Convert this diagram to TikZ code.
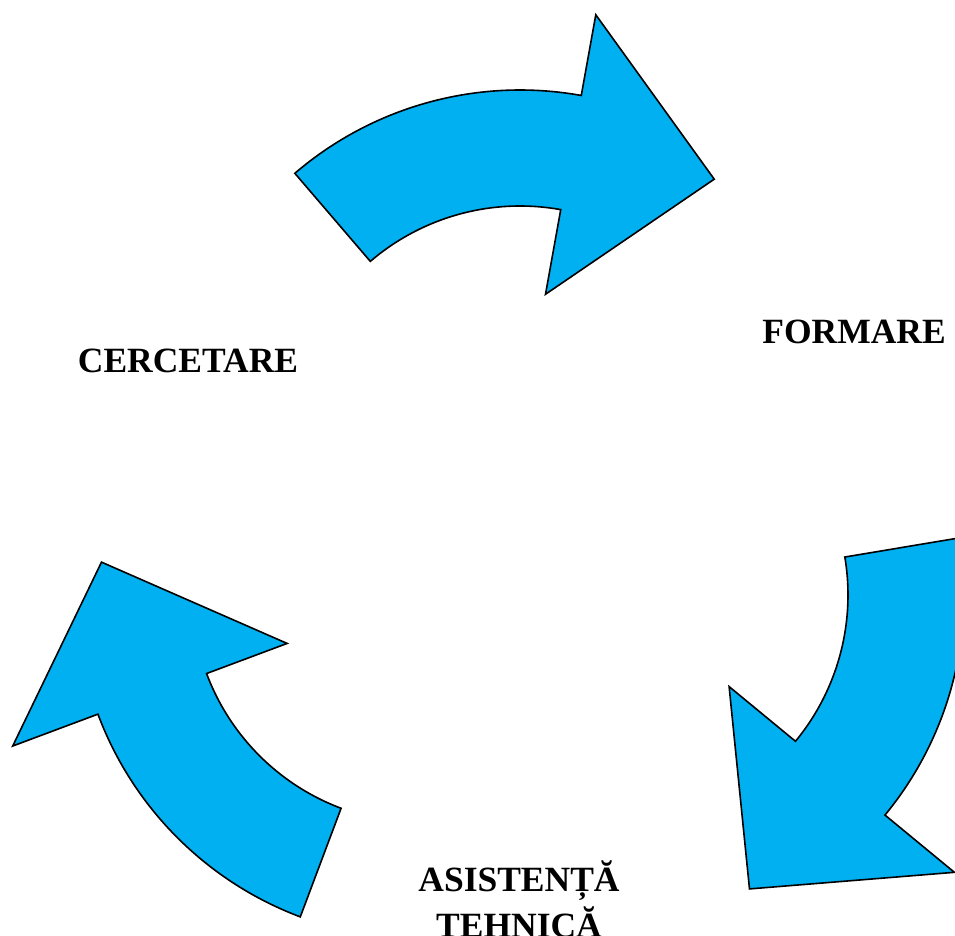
\documentclass[tikz,border=0pt]{standalone}
\usepackage{fontspec}
\setmainfont{Liberation Serif}
\usetikzlibrary{calc}
\definecolor{arrowblue}{HTML}{00B0F0}
\tikzset{
  cyclearrow/.style={fill=arrowblue, draw=black, line width=1.6pt, line join=miter},
  lbl/.style={font=\fontsize{35.5}{46}\selectfont\bfseries, inner sep=0pt, align=center}
}
% #1 centre, #2 start angle, #3 end angle, #4 tip angle, #5 outer head radius
\newcommand\cycarrow[5]{%
  \draw[cyclearrow] ($(#1)+(#2:346pt)$) arc[start angle=#2, end angle=#3, radius=346pt]
    -- ($(#1)+(#3:#5pt)$) -- ($(#1)+(#4:322pt)$) -- ($(#1)+(#3:144pt)$)
    -- ($(#1)+(#3:230pt)$) arc[start angle=#3, end angle=#2, radius=230pt] -- cycle;}
\begin{document}
\begin{tikzpicture}[x=1pt,y=1pt]
  \useasboundingbox (0,0) rectangle (955,935);
  \clip (0,0) rectangle (955,935);
  \coordinate (ctop) at (520,499);
  \coordinate (cright) at (618,340);
  \coordinate (cleft) at (422,342);
  \cycarrow{ctop}{130.6}{79.8}{52.9}{428}
  \cycarrow{cright}{9.5}{-39.5}{-65.9}{436}
  \cycarrow{cleft}{-110.6}{-159.5}{-185.5}{437}
  \node[lbl, anchor=base] (cerc) at (188,562.3) {CERCETARE};
  \node[lbl, anchor=base] (form) at (854,591.7) {FORMARE};
  \node[lbl, anchor=base] (asis) at (519,43.3) {ASISTENȚĂ};
  \node[lbl, anchor=base] (tehn) at (519,-2.5) {TEHNICĂ};
\end{tikzpicture}
\end{document}
